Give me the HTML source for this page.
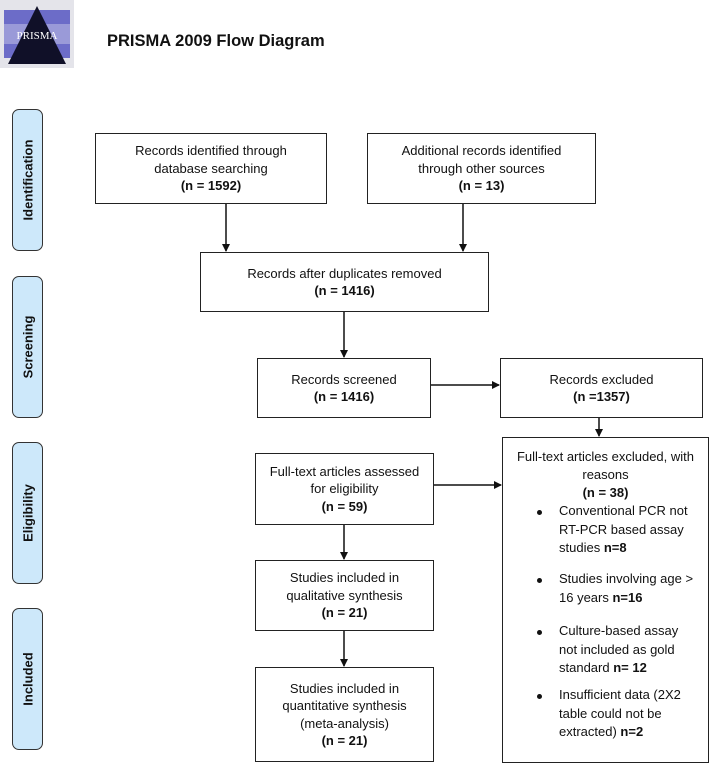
<!DOCTYPE html>
<html><head><meta charset="utf-8"><style>
body{margin:0;width:712px;height:763px;background:#fff;position:relative;overflow:hidden;font-family:"Liberation Sans",sans-serif;color:#111}
.b{position:absolute;border:1.5px solid #222;box-sizing:border-box;display:flex;flex-direction:column;justify-content:center;align-items:center;text-align:center;font-size:13px;line-height:17.5px}
.tab{position:absolute;left:12px;width:31px;background:#cde8fa;border:1.5px solid #333;border-radius:7px;box-sizing:border-box}
.tab span{position:absolute;left:50%;top:50%;transform:translate(-50%,-50%) rotate(-90deg);font-weight:bold;font-size:13px;white-space:nowrap}
b{font-weight:bold}
.li{position:absolute;left:559px;font-size:13px;line-height:18.5px;white-space:nowrap}
.dot{position:absolute;left:537px;width:5px;height:5px;border-radius:50%;background:#111}
</style></head><body>
<svg style="position:absolute;left:0;top:0" width="74" height="68">
<rect x="0" y="0" width="74" height="68" fill="#e4e4ea"/>
<rect x="4" y="10" width="66" height="14" fill="#6c6cc8"/>
<rect x="4" y="44" width="66" height="14" fill="#6c6cc8"/>
<rect x="4" y="24" width="66" height="20" fill="#9a9ad8"/>
<polygon points="37,6 66,64 8,64" fill="#101028"/>
<text x="37" y="39" font-size="11" fill="#fff" text-anchor="middle" font-family="Liberation Serif">PRISMA</text>
</svg>
<div style="position:absolute;left:107px;top:32px;font-weight:bold;font-size:16.5px">PRISMA 2009 Flow Diagram</div>

<div class="tab" style="top:109px;height:142px"><span>Identification</span></div>
<div class="tab" style="top:276px;height:142px"><span>Screening</span></div>
<div class="tab" style="top:442px;height:142px"><span>Eligibility</span></div>
<div class="tab" style="top:608px;height:142px"><span>Included</span></div>

<div class="b" style="left:95px;top:133px;width:232px;height:71px">Records identified through<br>database searching<br><b>(n = 1592)</b></div>
<div class="b" style="left:367px;top:133px;width:229px;height:71px">Additional records identified<br>through other sources<br><b>(n = 13)</b></div>
<div class="b" style="left:200px;top:252px;width:289px;height:60px">Records after duplicates removed<br><b>(n = 1416)</b></div>
<div class="b" style="left:257px;top:358px;width:174px;height:60px">Records screened<br><b>(n = 1416)</b></div>
<div class="b" style="left:500px;top:358px;width:203px;height:60px">Records excluded<br><b>(n =1357)</b></div>
<div class="b" style="left:255px;top:453px;width:179px;height:72px">Full-text articles assessed<br>for eligibility<br><b>(n = 59)</b></div>
<div class="b" style="left:255px;top:560px;width:179px;height:71px">Studies included in<br>qualitative synthesis<br><b>(n = 21)</b></div>
<div class="b" style="left:255px;top:667px;width:179px;height:95px">Studies included in<br>quantitative synthesis<br>(meta-analysis)<br><b>(n = 21)</b></div>

<div class="b" style="left:502px;top:437px;width:207px;height:326px;justify-content:flex-start"></div>
<div style="position:absolute;left:502px;top:448px;width:207px;text-align:center;font-size:13px;line-height:18px">Full-text articles excluded, with<br>reasons<br><b>(n = 38)</b></div>
<div class="dot" style="top:510px"></div>
<div class="li" style="top:502px">Conventional PCR not<br>RT-PCR based assay<br>studies <b>n=8</b></div>
<div class="dot" style="top:578px"></div>
<div class="li" style="top:570px">Studies involving age &gt;<br>16 years <b>n=16</b></div>
<div class="dot" style="top:630px"></div>
<div class="li" style="top:622px">Culture-based assay<br>not included as gold<br>standard <b>n= 12</b></div>
<div class="dot" style="top:694px"></div>
<div class="li" style="top:686px">Insufficient data (2X2<br>table could not be<br>extracted) <b>n=2</b></div>

<svg style="position:absolute;left:0;top:0" width="712" height="763">
<defs><marker id="a" markerWidth="8" markerHeight="8" refX="7" refY="4" orient="auto" markerUnits="userSpaceOnUse"><path d="M0,0 L8,4 L0,8 z" fill="#111"/></marker></defs>
<g stroke="#111" stroke-width="1.5" fill="none" marker-end="url(#a)">
<line x1="226" y1="204" x2="226" y2="251"/>
<line x1="463" y1="204" x2="463" y2="251"/>
<line x1="344" y1="312" x2="344" y2="357"/>
<line x1="431" y1="385" x2="499" y2="385"/>
<line x1="599" y1="418" x2="599" y2="436"/>
<line x1="434" y1="485" x2="501" y2="485"/>
<line x1="344" y1="525" x2="344" y2="559"/>
<line x1="344" y1="631" x2="344" y2="666"/>
</g></svg>
</body></html>
